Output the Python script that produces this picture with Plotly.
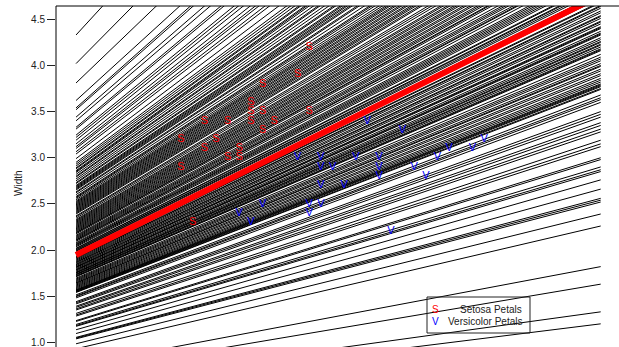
import plotly.graph_objects as go

# ---- data ----
line_x = [3.5, 8.0]
line_start = [0.494, 0.547, 0.671, 0.749, 0.930, 0.984, 1.037, 1.045, 1.053, 1.095,
              1.136, 1.173, 1.181, 1.193, 1.226, 1.235, 1.284, 1.296, 1.313, 1.350,
              1.362, 1.379, 1.391, 1.416, 1.428, 1.440, 1.481, 1.494, 1.502, 1.514,
              1.54, 1.545, 1.55, 1.555, 1.56, 1.565, 1.57, 1.58, 1.59, 1.60,
              1.61, 1.62, 1.63, 1.64, 1.645, 1.655, 1.665, 1.675, 1.685, 1.695,
              1.71, 1.715, 1.72, 1.73, 1.735, 1.74, 1.75, 1.755, 1.76, 1.77,
              1.78, 1.785, 1.79, 1.80, 1.81, 1.815, 1.82, 1.83, 1.84, 1.845,
              1.855, 1.865, 1.87, 1.88, 1.89,
              1.90, 1.91, 1.915, 1.925, 1.93, 1.945, 1.955, 1.96, 1.97, 1.985,
              1.99, 2.00, 2.005, 2.015, 2.02, 2.035, 2.045, 2.055, 2.06, 2.07,
              2.08, 2.095, 2.105, 2.11, 2.12, 2.13, 2.14, 2.15, 2.16, 2.175,
              2.185, 2.19, 2.20, 2.21, 2.22, 2.23, 2.24, 2.25, 2.26, 2.27,
              2.28, 2.29, 2.30, 2.31, 2.32, 2.33, 2.345, 2.36, 2.37,
              2.39, 2.40, 2.41, 2.42, 2.43, 2.44, 2.45, 2.46, 2.47, 2.48,
              2.49, 2.50, 2.51, 2.52, 2.53, 2.545, 2.56, 2.57, 2.58, 2.60,
              2.62, 2.63, 2.65, 2.66, 2.67, 2.68, 2.69, 2.70, 2.72, 2.73,
              2.75, 2.77, 2.79, 2.80, 2.82, 2.84, 2.85, 2.86, 2.88, 2.89, 2.91,
              2.93, 2.95, 2.99, 3.04, 3.065, 3.10, 3.12, 3.15, 3.19, 3.22,
              3.245, 3.31, 3.33, 3.40, 3.44, 3.52, 3.54, 3.62, 3.81, 4.02, 4.33]
line_end = [1.20, 1.33, 1.63, 1.82, 2.26, 2.39, 2.52, 2.54, 2.56, 2.66,
            2.76, 2.85, 2.87, 2.90, 2.98, 3.00, 3.12, 3.15, 3.19, 3.28,
            3.31, 3.35, 3.38, 3.44, 3.47, 3.50, 3.60, 3.63, 3.65, 3.68,
            3.74, 3.75, 3.77, 3.78, 3.79, 3.80, 3.82, 3.84, 3.86, 3.89,
            3.91, 3.94, 3.96, 3.99, 4.00, 4.02, 4.05, 4.07, 4.09, 4.12,
            4.16, 4.17, 4.18, 4.20, 4.22, 4.23, 4.25, 4.26, 4.28, 4.30,
            4.33, 4.34, 4.35, 4.37, 4.40, 4.41, 4.42, 4.45, 4.47, 4.48,
            4.51, 4.53, 4.54, 4.57, 4.59,
            4.62, 4.64, 4.65, 4.68, 4.69, 4.73, 4.75, 4.76, 4.79, 4.82,
            4.84, 4.86, 4.87, 4.90, 4.91, 4.95, 4.97, 4.99, 5.01, 5.03,
            5.05, 5.09, 5.12, 5.13, 5.15, 5.18, 5.20, 5.22, 5.25, 5.29,
            5.31, 5.32, 5.35, 5.37, 5.39, 5.42, 5.44, 5.47, 5.49, 5.52,
            5.54, 5.56, 5.59, 5.61, 5.64, 5.66, 5.70, 5.73, 5.76,
            5.81, 5.83, 5.86, 5.88, 5.90, 5.93, 5.95, 5.98, 6.00, 6.03,
            6.05, 6.08, 6.10, 6.12, 6.15, 6.18, 6.22, 6.25, 6.27, 6.32,
            6.37, 6.39, 6.44, 6.46, 6.49, 6.51, 6.54, 6.56, 6.61, 6.63,
            6.68, 6.73, 6.78, 6.80, 6.85, 6.90, 6.93, 6.95, 7.00, 7.02, 7.07,
            7.12, 7.17, 7.27, 7.39, 7.45, 7.53, 7.58, 7.65, 7.75, 7.82,
            7.89, 8.04, 8.09, 8.26, 8.36, 8.55, 8.60, 8.80, 9.26, 9.77, 10.52]

mean_line = [1.946, 4.76]

setosa_x = [5.5, 5.4, 5.1, 5.0, 5.0, 5.1, 5.5, 4.6, 4.8, 5.0, 5.2, 5.1, 4.4, 4.7,
            4.6, 4.9, 4.8, 4.9, 4.4, 4.5]
setosa_y = [4.2, 3.9, 3.8, 3.6, 3.5, 3.5, 3.5, 3.4, 3.4, 3.4, 3.4, 3.3, 3.2, 3.2,
            3.1, 3.1, 3.0, 3.0, 2.9, 2.3]

versicolor_x = [6.0, 6.3, 5.4, 5.6, 5.6, 5.7, 5.9, 6.1, 6.1, 6.1, 6.4, 6.5, 6.6,
                6.7, 6.9, 7.0, 5.6, 5.8, 5.5, 5.6, 5.5, 6.2, 5.1, 4.9, 5.0]
versicolor_y = [3.4, 3.3, 3.0, 3.0, 2.9, 2.9, 3.0, 3.0, 2.9, 2.8, 2.9, 2.8, 3.0,
                3.1, 3.1, 3.2, 2.7, 2.7, 2.5, 2.5, 2.4, 2.2, 2.5, 2.4, 2.3]

y_ticks = [1.0, 1.5, 2.0, 2.5, 3.0, 3.5, 4.0, 4.5]
legend_labels = ["Setosa Petals", "Versicolor Petals"]

# ---- build ----
lx, ly = [], []
for a, b in zip(line_start, line_end):
    lx += [line_x[0], line_x[1], None]
    ly += [a, b, None]

FONT = "Liberation Sans, Arial, Helvetica, sans-serif"

fig = go.Figure()
fig.add_trace(go.Scatter(x=lx, y=ly, mode="lines",
                         line=dict(color="black", width=1), hoverinfo="skip"))
fig.add_trace(go.Scatter(x=line_x, y=mean_line, mode="lines",
                         line=dict(color="#ff0000", width=6), hoverinfo="skip"))
fig.add_trace(go.Scatter(x=setosa_x, y=setosa_y, mode="text", text=["S"] * len(setosa_x),
                         textposition="middle center",
                         textfont=dict(color="#ff0000", size=11, family=FONT)))
fig.add_trace(go.Scatter(x=versicolor_x, y=versicolor_y, mode="text",
                         text=["V"] * len(versicolor_x), textposition="middle center",
                         textfont=dict(color="#0000ff", size=11, family=FONT)))

W, H = 619, 347
ml, mt = 56, 6
pw, ph = W - ml, H - mt

def px_x(p):
    return (p - ml) / pw

def px_y(p):
    return (H - p) / ph

shapes = [
    dict(type="line", xref="paper", yref="paper", x0=0, x1=0, y0=0, y1=1,
         line=dict(color="black", width=1)),
    dict(type="line", xref="paper", yref="paper", x0=0, x1=1, y0=1, y1=1,
         line=dict(color="black", width=1)),
    dict(type="rect", xref="paper", yref="paper",
         x0=px_x(427), x1=px_x(530), y0=px_y(333), y1=px_y(297),
         line=dict(color="#222", width=1), fillcolor="rgba(0,0,0,0)"),
]

annotations = [
    dict(text="Width", xref="paper", yref="paper", x=px_x(18), y=px_y(183),
         textangle=-90, showarrow=False, xanchor="center", yanchor="middle",
         font=dict(size=10, family=FONT, color="#222")),
    dict(text="S", xref="paper", yref="paper", x=px_x(436), y=px_y(309),
         showarrow=False, xanchor="center", yanchor="middle",
         font=dict(size=10, family=FONT, color="#ff0000")),
    dict(text="V", xref="paper", yref="paper", x=px_x(436), y=px_y(321),
         showarrow=False, xanchor="center", yanchor="middle",
         font=dict(size=10, family=FONT, color="#0000ff")),
    dict(text=legend_labels[0], xref="paper", yref="paper", x=px_x(524), y=px_y(309),
         showarrow=False, xanchor="right", yanchor="middle",
         font=dict(size=10, family=FONT, color="#222")),
    dict(text=legend_labels[1], xref="paper", yref="paper", x=px_x(524), y=px_y(321),
         showarrow=False, xanchor="right", yanchor="middle",
         font=dict(size=10, family=FONT, color="#222")),
]

fig.update_layout(
    width=W, height=H,
    margin=dict(l=ml, r=0, t=mt, b=0, pad=0),
    paper_bgcolor="white", plot_bgcolor="white",
    showlegend=False,
    shapes=shapes, annotations=annotations,
    xaxis=dict(range=[3.328, 8.157], showgrid=False, zeroline=False,
               showticklabels=False, ticks="", showline=False),
    yaxis=dict(range=[0.949, 4.644], showgrid=False, zeroline=False,
               tickvals=y_ticks, ticktext=[f"{v:.1f}" for v in y_ticks],
               ticks="outside", ticklen=8, tickwidth=1, tickcolor="#222",
               tickfont=dict(size=10, family=FONT, color="#222"),
               ticklabeloverflow="allow",
               showline=False),
)

fig.write_html("out.html", config={"displayModeBar": False},
               post_script="document.body.style.margin='0';document.body.style.padding='0';document.body.style.overflow='hidden';")
